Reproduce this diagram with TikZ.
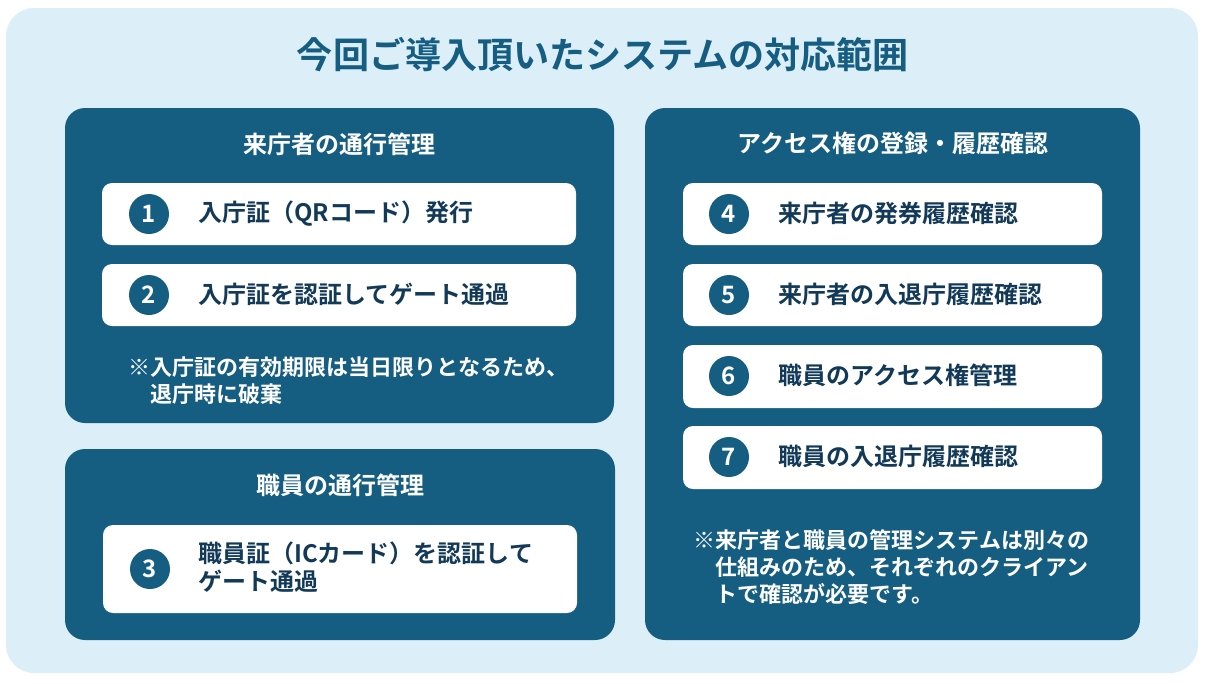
\documentclass[tikz,border=0pt]{standalone}
\usepackage{fontspec}
\setmainfont{Noto Sans CJK JP}[BoldFont={Noto Sans CJK JP Bold}]
\definecolor{bgc}{HTML}{DCEFF9}
\definecolor{navy}{HTML}{155E82}
\definecolor{inkc}{HTML}{123A58}
\tikzset{
 px/.style={x=0.75pt,y=-0.75pt},
 panel/.style={fill=navy,rounded corners=15pt,draw=none},
 itembox/.style={fill=white,rounded corners=7.5pt,draw=none},
 badge/.style={circle,fill=navy,minimum size=30pt,inner sep=0pt,text=white,font=\fontsize{18}{18}\selectfont\bfseries},
 itemtxt/.style={anchor=west,text=inkc,inner sep=0pt,font=\fontsize{18}{21.5}\selectfont\bfseries,align=left},
 headtxt/.style={text=white,inner sep=0pt,font=\fontsize{18}{20}\selectfont\bfseries},
 notetxt/.style={anchor=west,text=white,inner sep=0pt,font=\fontsize{16.5}{20.2}\selectfont\bfseries,align=left},
}
\begin{document}
\begin{tikzpicture}[px]
\useasboundingbox (0,0) rectangle (1209,683);
\fill[white] (0,0) rectangle (1209,683);
\fill[bgc,rounded corners=21pt] (6,8) rectangle (1198,673);
\node[text=navy,inner sep=0pt,font=\fontsize{27.05}{30}\selectfont\bfseries] (title) at (603,55) {今回ご導入頂いたシステムの対応範囲};
% panels
\fill[panel] (65,108) rectangle (614,423);
\fill[panel] (65,449) rectangle (615,640);
\fill[panel] (645,108) rectangle (1140,640);
\node[headtxt] (h1) at (339.5,144) {来庁者の通行管理};
\node[headtxt] (h2) at (340,485) {職員の通行管理};
\node[headtxt] (h3) at (893,143) {アクセス権の登録・履歴確認};
% left boxes
\fill[itembox] (102,183) rectangle (576,245);
\fill[itembox] (102,264) rectangle (576,326);
\fill[itembox] (103,525) rectangle (577,613);
% right boxes
\fill[itembox] (683,183) rectangle (1102,245);
\fill[itembox] (683,264) rectangle (1102,326);
\fill[itembox] (683,345) rectangle (1102,408);
\fill[itembox] (683,426) rectangle (1102,489);
% badges
\node[badge] (n1) at (149,214) {1};
\node[badge] (n2) at (149,295) {2};
\node[badge] (n3) at (150,569) {3};
\node[badge] (n4) at (729,214) {4};
\node[badge] (n5) at (729,295) {5};
\node[badge] (n6) at (729,376) {6};
\node[badge] (n7) at (729,457) {7};
% item text
\node[itemtxt] (t1) at (198,214) {入庁証（QRコード）発行};
\node[itemtxt] (t2) at (198,294.5) {入庁証を認証してゲート通過};
\node[itemtxt] (t3) at (198,567) {職員証（ICカード）を認証して\\ゲート通過};
\node[itemtxt] (t4) at (778,213.5) {来庁者の発券履歴確認};
\node[itemtxt] (t5) at (778,294.5) {来庁者の入退庁履歴確認};
\node[itemtxt] (t6) at (778,375.5) {職員のアクセス権管理};
\node[itemtxt] (t7) at (778,456.5) {職員の入退庁履歴確認};
% notes
\node[notetxt] (nt1) at (128.5,380.5) {※入庁証の有効期限は当日限りとなるため、\\\hspace*{16.5pt}退庁時に破棄};
\node[notetxt] (nt2) at (693.5,567.5) {※来庁者と職員の管理システムは別々の\\\hspace*{16.5pt}仕組みのため、それぞれのクライアン\\\hspace*{16.5pt}トで確認が必要です。};
\end{tikzpicture}
\end{document}
